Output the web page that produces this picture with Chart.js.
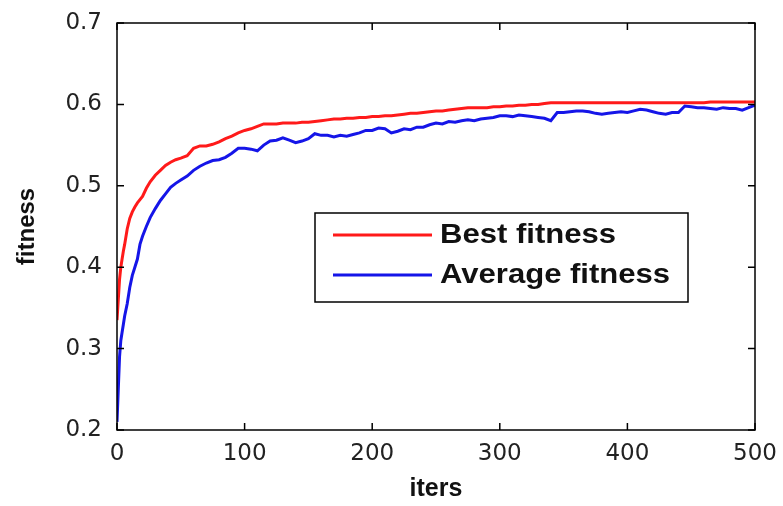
<!DOCTYPE html>
<html>
<head>
<meta charset="utf-8">
<script src="https://cdn.jsdelivr.net/npm/chart.js@4/dist/chart.umd.min.js"></script>
<style>
  html, body { margin: 0; padding: 0; background: #fff; }
  #wrap { width: 783px; height: 506px; }
</style>
</head>
<body>
<div id="wrap"><canvas id="fitnessChart" width="783" height="506"></canvas></div>
<script>
// Data
const iters = [0, 1, 2, 3, 4, 5, 6, 8, 10, 12, 14, 16, 18, 20, 23, 26, 30, 34, 38, 42, 46, 50,
    55, 60, 65, 70, 75, 80, 85, 90, 95, 100,
    105, 110, 115, 120, 125, 130, 135, 140, 145, 150,
    155, 160, 165, 170, 175, 180, 185, 190, 195, 200,
    205, 210, 215, 220, 225, 230, 235, 240, 245, 250,
    255, 260, 265, 270, 275, 280, 285, 290, 295, 300,
    305, 310, 315, 320, 325, 330, 335, 340, 345, 350,
    355, 360, 365, 370, 375, 380, 385, 390, 395, 400,
    405, 410, 415, 420, 425, 430, 435, 440, 445, 450,
    455, 460, 465, 470, 475, 480, 485, 490, 495, 500];

const bestFitness = [0.335, 0.360, 0.385, 0.400, 0.410, 0.420, 0.428, 0.447, 0.460, 0.468, 0.474,
    0.479, 0.483, 0.487, 0.497, 0.505, 0.513, 0.519, 0.525, 0.529, 0.532, 0.534,
    0.537, 0.546, 0.549, 0.549, 0.551, 0.554, 0.558, 0.561, 0.565, 0.568,
    0.570, 0.573, 0.576, 0.576, 0.576, 0.577, 0.577, 0.577, 0.578, 0.578,
    0.579, 0.580, 0.581, 0.582, 0.582, 0.583, 0.583, 0.584, 0.584, 0.585,
    0.585, 0.586, 0.586, 0.587, 0.588, 0.589, 0.589, 0.590, 0.591, 0.592,
    0.592, 0.593, 0.594, 0.595, 0.596, 0.596, 0.596, 0.596, 0.597, 0.597,
    0.598, 0.598, 0.599, 0.599, 0.600, 0.600, 0.601, 0.602, 0.602, 0.602,
    0.602, 0.602, 0.602, 0.602, 0.602, 0.602, 0.602, 0.602, 0.602, 0.602,
    0.602, 0.602, 0.602, 0.602, 0.602, 0.602, 0.602, 0.602, 0.602, 0.602,
    0.602, 0.602, 0.603, 0.603, 0.603, 0.603, 0.603, 0.603, 0.603, 0.603];

const avgFitness = [0.210, 0.250, 0.290, 0.310, 0.320, 0.330, 0.340, 0.355, 0.375, 0.390, 0.400,
    0.410, 0.428, 0.438, 0.450, 0.461, 0.472, 0.482, 0.490, 0.498, 0.503, 0.507,
    0.512, 0.519, 0.524, 0.528, 0.531, 0.532, 0.535, 0.540, 0.546, 0.546,
    0.545, 0.543, 0.550, 0.555, 0.556, 0.559, 0.556, 0.553, 0.555, 0.558,
    0.564, 0.562, 0.562, 0.560, 0.562, 0.561, 0.563, 0.565, 0.568, 0.568,
    0.571, 0.570, 0.565, 0.567, 0.570, 0.569, 0.572, 0.572, 0.575, 0.577,
    0.576, 0.579, 0.578, 0.580, 0.581, 0.580, 0.582, 0.583, 0.584, 0.586,
    0.586, 0.585, 0.587, 0.586, 0.585, 0.584, 0.583, 0.580, 0.590, 0.590,
    0.591, 0.592, 0.592, 0.591, 0.589, 0.588, 0.589, 0.590, 0.591, 0.590,
    0.592, 0.594, 0.593, 0.591, 0.589, 0.588, 0.590, 0.590, 0.598, 0.597,
    0.596, 0.596, 0.595, 0.594, 0.596, 0.595, 0.595, 0.593, 0.596, 0.599];

const xTicks = [0, 100, 200, 300, 400, 500];
const yTicks = [0.2, 0.3, 0.4, 0.5, 0.6, 0.7];

const toPoints = (xs, ys) => xs.map((x, i) => ({ x: x, y: ys[i] }));

// Box frame, inward ticks on all four sides, and the legend box
const matlabFrame = {
    id: 'matlabFrame',
    afterDatasetsDraw(chart) {
        const { ctx, chartArea: a, scales } = chart;
        const tick = 7;
        ctx.save();
        ctx.strokeStyle = '#000';
        ctx.lineWidth = 1.5;
        ctx.strokeRect(a.left, a.top, a.right - a.left, a.bottom - a.top);
        ctx.beginPath();
        xTicks.forEach(v => {
            const px = scales.x.getPixelForValue(v);
            ctx.moveTo(px, a.bottom); ctx.lineTo(px, a.bottom - tick);
            ctx.moveTo(px, a.top); ctx.lineTo(px, a.top + tick);
        });
        yTicks.forEach(v => {
            const py = scales.y.getPixelForValue(v);
            ctx.moveTo(a.left, py); ctx.lineTo(a.left + tick, py);
            ctx.moveTo(a.right, py); ctx.lineTo(a.right - tick, py);
        });
        ctx.stroke();

        // legend
        const box = { x: 315, y: 213, w: 373, h: 89 };
        ctx.fillStyle = '#fff';
        ctx.fillRect(box.x, box.y, box.w, box.h);
        ctx.strokeRect(box.x, box.y, box.w, box.h);
        chart.data.datasets.forEach((ds, i) => {
            const y = 235 + i * 40;
            ctx.strokeStyle = ds.borderColor;
            ctx.lineWidth = 3;
            ctx.beginPath();
            ctx.moveTo(333, y); ctx.lineTo(432, y);
            ctx.stroke();
            // text is a bit wider in the original, stretch it horizontally
            ctx.save();
            ctx.translate(440, y + 1);
            ctx.scale(1.15, 1);
            ctx.font = 'bold 27px "Liberation Sans", Arial, sans-serif';
            ctx.textBaseline = 'middle';
            ctx.fillStyle = '#111';
            ctx.fillText(ds.label, 0, 0);
            ctx.restore();
        });
        ctx.restore();
    }
};

const ctx = document.getElementById('fitnessChart').getContext('2d');
const chart = new Chart(ctx, {
    type: 'line',
    data: {
        datasets: [{
            label: 'Best fitness',
            data: toPoints(iters, bestFitness),
            borderColor: '#ff1a1a',
            borderWidth: 3,
            pointRadius: 0,
            tension: 0
        }, {
            label: 'Average fitness',
            data: toPoints(iters, avgFitness),
            borderColor: '#1515e8',
            borderWidth: 3,
            pointRadius: 0,
            tension: 0
        }]
    },
    options: {
        responsive: false,
        animation: false,
        devicePixelRatio: 1,
        layout: { padding: { top: 23, right: 28, left: 0, bottom: 0 } },
        plugins: {
            legend: { display: false },
            tooltip: { enabled: false }
        },
        scales: {
            x: {
                type: 'linear',
                min: 0,
                max: 500,
                afterBuildTicks: s => { s.ticks = xTicks.map(v => ({ value: v })); },
                afterFit: s => { s.height = 76; s.paddingLeft = 0; s.paddingRight = 0; },
                grid: { display: false, drawTicks: false },
                border: { display: false },
                ticks: {
                    color: '#222',
                    padding: 10,
                    maxRotation: 0,
                    font: { family: '"DejaVu Sans", sans-serif', size: 23 }
                },
                title: {
                    display: true,
                    text: 'iters',
                    color: '#111',
                    padding: { top: 0, bottom: 2 },
                    font: { family: '"Liberation Sans", Arial, sans-serif', size: 25, weight: 'bold' }
                }
            },
            y: {
                min: 0.2,
                max: 0.7,
                afterBuildTicks: s => { s.ticks = yTicks.map(v => ({ value: v })); },
                afterFit: s => { s.width = 117; s.paddingTop = 0; s.paddingBottom = 0; },
                grid: { display: false, drawTicks: false },
                border: { display: false },
                ticks: {
                    color: '#222',
                    padding: 15,
                    callback: v => v.toFixed(1),
                    font: { family: '"DejaVu Sans", sans-serif', size: 23 }
                },
                title: {
                    display: true,
                    text: 'fitness',
                    color: '#111',
                    padding: { top: 13, bottom: 0 },
                    font: { family: '"Liberation Sans", Arial, sans-serif', size: 24, weight: 'bold' }
                }
            }
        }
    },
    plugins: [matlabFrame]
});
</script>
</body>
</html>
